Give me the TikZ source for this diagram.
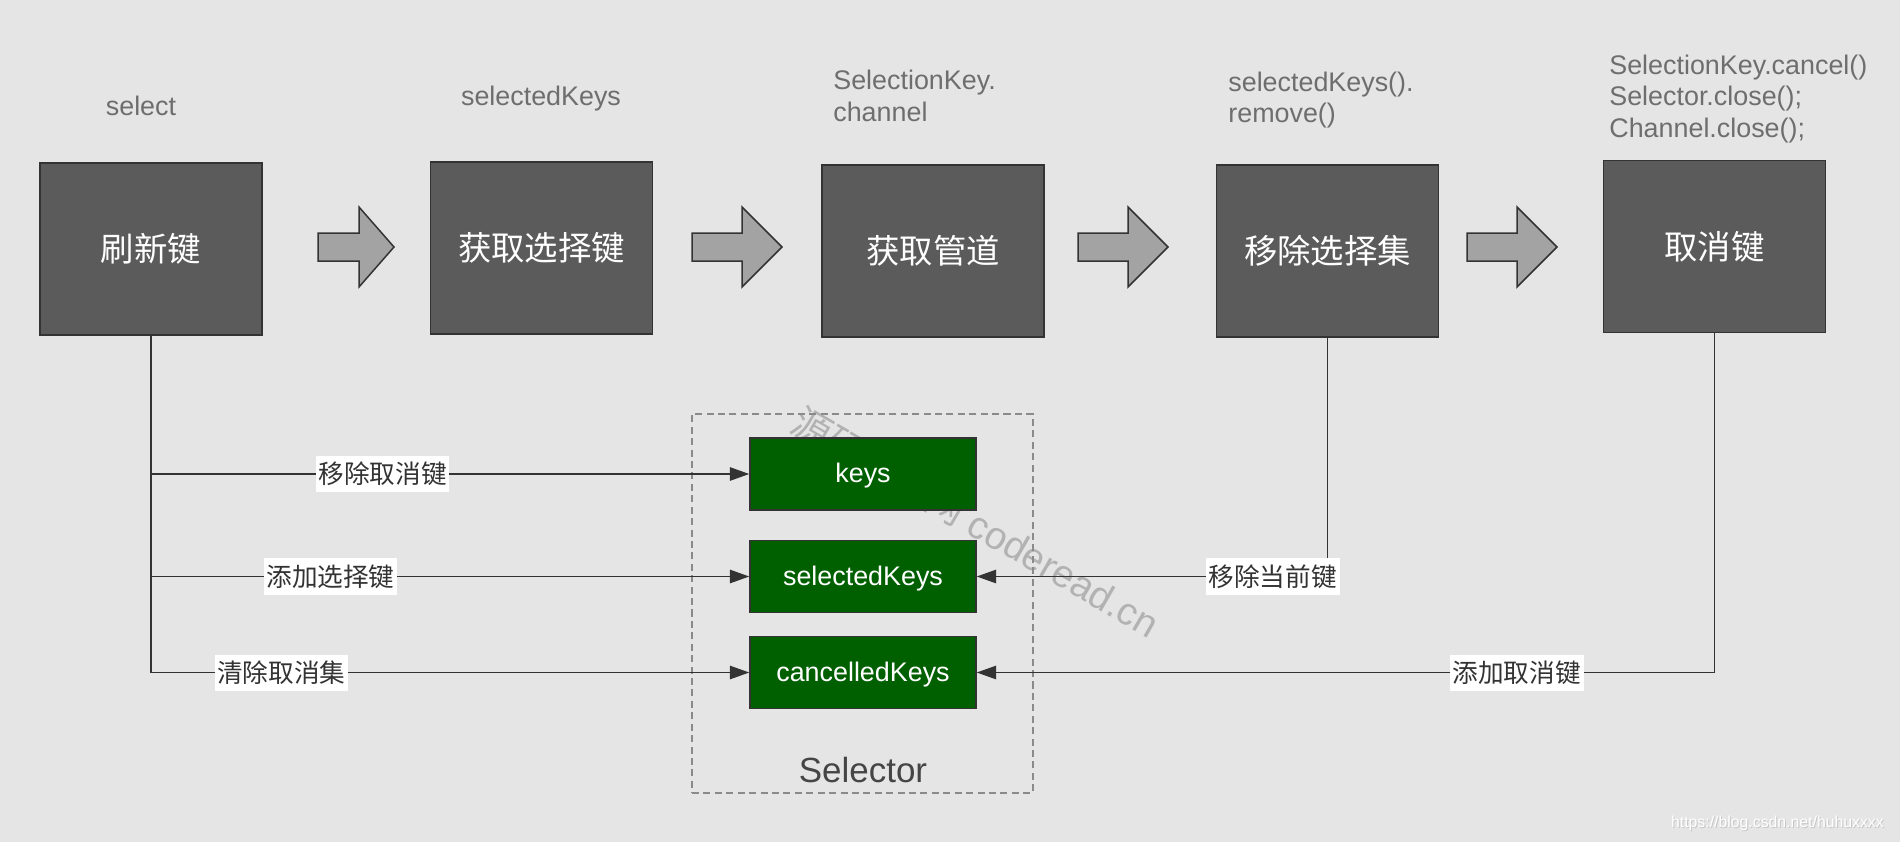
\documentclass[tikz,border=0pt]{standalone}
\usepackage{fontspec}
\setmainfont{Liberation Sans}
\newfontfamily\cjk{Noto Sans CJK SC}
\usetikzlibrary{arrows.meta}

\definecolor{bg}{HTML}{E5E5E5}
\definecolor{stagegray}{HTML}{5B5B5B}
\definecolor{edge}{HTML}{333333}
\definecolor{fatgray}{HTML}{A3A3A3}
\definecolor{setgreen}{HTML}{006000}
\definecolor{apigray}{HTML}{6E6E6E}
\definecolor{markgray}{HTML}{B2B2B2}
\definecolor{dashgray}{HTML}{8A8A8A}

\begin{document}
\begin{tikzpicture}[x=0.02cm,y=-0.02cm,
  stage/.style={draw=edge,fill=stagegray,line width=0.85pt,minimum width=4.44cm,minimum height=3.44cm,text=white,font=\cjk\fontsize{19}{22}\selectfont},
  keyset/.style={draw=edge,fill=setgreen,line width=0.85pt,minimum width=4.52cm,minimum height=1.44cm,text=white,text depth=0.1em,font=\fontsize{15.3}{18}\selectfont},
  api/.style={text=apigray,align=left,inner sep=0pt,font=\fontsize{15.3}{17.9}\selectfont},
  link/.style={draw=edge,line width=0.85pt,-{Triangle[length=11pt,width=7.6pt]}},
  tag/.style={fill=white,text=edge,inner xsep=1.5pt,inner ysep=0pt,minimum height=20.5pt,font=\cjk\fontsize{14.6}{17}\selectfont},
  fat/.style={draw=edge,fill=fatgray,line width=0.85pt,line join=miter}]

\fill[bg] (0,0) rectangle (1900,842);
\useasboundingbox (0,0) rectangle (1900,842);

% watermarks
\node[text=markgray,rotate=-30,font=\fontsize{22}{24}\selectfont] (mark) at (976,522) {{\cjk 源码阅读网} coderead.cn};
\node[text=black!22,anchor=east,font=\fontsize{9}{10}\selectfont] (csdnshade) at (1891,824) {https://blog.csdn.net/huhuxxxx};
\node[text=white,anchor=east,font=\fontsize{9}{10}\selectfont] (csdn) at (1890,823) {https://blog.csdn.net/huhuxxxx};

% steps
\node[stage] (refresh) at (151,249) {刷新键};
\node[stage] (fetch) at (541.5,248) {获取选择键};
\node[stage] (channel) at (933,251) {获取管道};
\node[stage] (remove) at (1327.5,251) {移除选择集};
\node[stage] (cancel) at (1714.5,246.5) {取消键};

\node[api] (apiselect) at (141,106) {select};
\node[api] (apiselected) at (541,99) {selectedKeys};
\node[api,anchor=west] (apichannel) at (833,96) {SelectionKey.\\channel};
\node[api,anchor=west] (apiremove) at (1228,100) {selectedKeys().\\remove()};
\node[api,anchor=west] (apicancel) at (1609,99) {SelectionKey.cancel()\\Selector.close();\\Channel.close();};

\foreach \xa/\xh/\xt in {318/359/394, 692/742/782, 1078/1128/1168, 1467/1517/1557}
  \draw[fat] (\xa,233) -- (\xh,233) -- (\xh,207) -- (\xt,247) -- (\xh,287) -- (\xh,261) -- (\xa,261) -- cycle;

% selector
\node[draw=dashgray,line width=0.7pt,dash pattern=on 4pt off 2.5pt,minimum width=6.82cm,minimum height=7.58cm] (selector) at (862.5,603.5) {};
\node[text=black!73,font=\fontsize{19.9}{22}\selectfont] (selname) at (863,770) {Selector};

\node[keyset] (keys) at (863,474) {keys};
\node[keyset] (selected) at (863,576.5) {selectedKeys};
\node[keyset] (cancelled) at (863,672.5) {cancelledKeys};

\draw[link] (refresh.south) |- (cancelled.west) node[tag,pos=0.609] (tclear) {清除取消集};
\draw[link] (refresh.south |- keys.west) -- (keys.west) node[tag,pos=0.387] (tdrop) {移除取消键};
\draw[link] (refresh.south |- selected.west) -- (selected.west) node[tag,pos=0.30] (tadd) {添加选择键};
\draw[link] (remove.south) |- (selected.east) node[tag,pos=0.578] (tremove) {移除当前键};
\draw[link] (cancel.south) |- (cancelled.east) node[tag,pos=0.634] (tcancel) {添加取消键};
\end{tikzpicture}
\end{document}
